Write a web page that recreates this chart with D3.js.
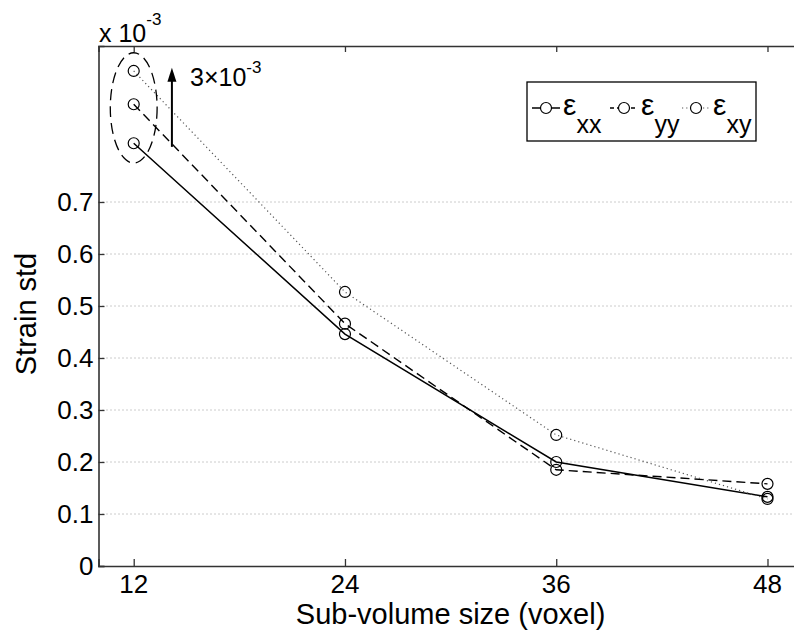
<!DOCTYPE html>
<html>
<head>
<meta charset="utf-8">
<script src="https://cdn.jsdelivr.net/npm/d3@7"></script>
<style>
  body { margin: 0; background: #fff; }
  svg { font-family: "Liberation Sans", Arial, sans-serif; }
  .tick-label { font-size: 26px; fill: #000; }
  .axis-title { font-size: 29px; fill: #000; }
</style>
</head>
<body>
<svg id="chart"></svg>
<script>
// Sub-volume sizes (x) and strain std per component (in units of 1e-3)
const sizes = [12, 24, 36, 48];
const strainXX = [0.813, 0.446, 0.200, 0.133];
const strainYY = [0.888, 0.466, 0.185, 0.158];
const strainXY = [0.952, 0.527, 0.252, 0.129];

const xTicks = [12, 24, 36, 48];
const yTicks = [0, 0.1, 0.2, 0.3, 0.4, 0.5, 0.6, 0.7];

const seriesNames = ['xx', 'yy', 'xy'];

// Annotation around the first group (data units)
const ellipseCenter = [12, 0.881];
const ellipseRadii = [1.33, 0.106];
const arrowX = 14.17;
const arrowFromTo = [0.806, 0.958];
const arrowLabelPos = [15.2, 0.923];

class LinePlot {
    constructor(_config) {
        this.config = {
            parentElement: _config.parentElement,
            containerWidth: _config.containerWidth || 794,
            containerHeight: _config.containerHeight || 634
        }
        this.initVis();
    }

    initVis() {
        let vis = this;

        vis.svg = d3.select(vis.config.parentElement)
            .attr('width', vis.config.containerWidth)
            .attr('height', vis.config.containerHeight);

        // x axis runs off the right edge of the picture (domain 10..50)
        vis.xScale = d3.scaleLinear().domain([10, 50]).range([98.5, 802.7]);
        vis.yScale = d3.scaleLinear().domain([0, 1]).range([566, 46]);

        vis.series = [
            {name: 'xx', values: strainXX, dash: null, color: '#000', width: 1.5},
            {name: 'yy', values: strainYY, dash: '9,5', color: '#000', width: 1.4},
            {name: 'xy', values: strainXY, dash: '1.2,3', color: '#555', width: 1.2}
        ];

        vis.renderVis();
    }

    renderVis() {
        let vis = this;
        const x = vis.xScale, y = vis.yScale;
        const x0 = x.range()[0], x1 = x.range()[1];
        const y0 = y.range()[0], y1 = y.range()[1];

        // Gridlines (dotted) for y ticks > 0
        vis.svg.append('g').selectAll('line')
            .data(yTicks.filter(d => d > 0))
            .join('line')
            .attr('x1', x0).attr('x2', x1)
            .attr('y1', d => y(d)).attr('y2', d => y(d))
            .attr('stroke', '#999')
            .attr('stroke-width', 1)
            .attr('stroke-dasharray', '1,3');

        // Axes with inward ticks
        const xAxisB = d3.axisTop(x).tickValues(xTicks).tickSize(7).tickFormat('');
        const xAxisT = d3.axisBottom(x).tickValues(xTicks).tickSize(6).tickFormat('');
        const yAxisL = d3.axisRight(y).tickValues(yTicks).tickSize(6).tickFormat('');

        [
            [xAxisB, `translate(0,${y0})`],
            [xAxisT, `translate(0,${y1})`],
            [yAxisL, `translate(${x0},0)`]
        ].forEach(([ax, tr]) => {
            vis.svg.append('g')
                .attr('transform', tr)
                .call(ax)
                .call(g => g.selectAll('line').attr('stroke', '#333').attr('stroke-width', 1.3))
                .call(g => g.select('.domain').attr('stroke', '#333').attr('stroke-width', 1.6));
        });

        // Tick labels
        vis.svg.append('g').selectAll('text')
            .data(xTicks)
            .join('text')
            .attr('class', 'tick-label')
            .attr('x', d => x(d))
            .attr('y', 593)
            .attr('text-anchor', 'middle')
            .text(d => d);

        vis.svg.append('g').selectAll('text')
            .data(yTicks)
            .join('text')
            .attr('class', 'tick-label')
            .attr('x', x0 - 5)
            .attr('y', d => y(d) + 9.3)
            .attr('text-anchor', 'end')
            .text(d => d === 0 ? '0' : d3.format('.1f')(d));

        // Axis titles
        vis.svg.append('text')
            .attr('class', 'axis-title')
            .attr('x', (x0 + x1) / 2)
            .attr('y', 624)
            .attr('text-anchor', 'middle')
            .text('Sub-volume size (voxel)');

        vis.svg.append('text')
            .attr('class', 'axis-title')
            .attr('transform', 'translate(36,314) rotate(-90)')
            .attr('text-anchor', 'middle')
            .text('Strain std');

        // Exponent label above the axes
        const expo = vis.svg.append('text')
            .attr('x', 99).attr('y', 42)
            .attr('font-size', 25);
        expo.append('tspan').text('x 10');
        expo.append('tspan').attr('font-size', 17).attr('dy', -17).text('-3');

        // Lines and markers
        const line = d3.line()
            .x((d, i) => x(sizes[i]))
            .y(d => y(d));

        vis.series.forEach(s => {
            vis.svg.append('path')
                .datum(s.values)
                .attr('d', line)
                .attr('fill', 'none')
                .attr('stroke', s.color)
                .attr('stroke-width', s.width)
                .attr('stroke-dasharray', s.dash);

            vis.svg.append('g').selectAll('circle')
                .data(s.values)
                .join('circle')
                .attr('cx', (d, i) => x(sizes[i]))
                .attr('cy', d => y(d))
                .attr('r', 5.5)
                .attr('fill', 'none')
                .attr('stroke', '#000')
                .attr('stroke-width', 1.2);
        });

        // Dashed ellipse around the first group
        vis.svg.append('ellipse')
            .attr('cx', x(ellipseCenter[0]))
            .attr('cy', y(ellipseCenter[1]))
            .attr('rx', x(ellipseCenter[0] + ellipseRadii[0]) - x(ellipseCenter[0]))
            .attr('ry', y(ellipseCenter[1] - ellipseRadii[1]) - y(ellipseCenter[1]))
            .attr('fill', 'none')
            .attr('stroke', '#000')
            .attr('stroke-width', 1.3)
            .attr('stroke-dasharray', '11,6');

        // Arrow with label
        const ax = x(arrowX), ayFrom = y(arrowFromTo[0]), ayTo = y(arrowFromTo[1]);
        vis.svg.append('line')
            .attr('x1', ax).attr('x2', ax)
            .attr('y1', ayFrom).attr('y2', ayTo + 12)
            .attr('stroke', '#000')
            .attr('stroke-width', 2);
        vis.svg.append('path')
            .attr('d', `M${ax - 4.5},${ayTo + 14} L${ax},${ayTo} L${ax + 4.5},${ayTo + 14} Z`)
            .attr('fill', '#000');

        const lab = vis.svg.append('text')
            .attr('x', x(arrowLabelPos[0]))
            .attr('y', y(arrowLabelPos[1]))
            .attr('font-size', 25);
        lab.append('tspan').text('3×10');
        lab.append('tspan').attr('font-size', 17).attr('dy', -13).text('-3');

        // Legend
        const legend = vis.svg.append('g').attr('transform', 'translate(527,82)');
        legend.append('rect')
            .attr('width', 229).attr('height', 59)
            .attr('fill', '#fff')
            .attr('stroke', '#000')
            .attr('stroke-width', 1.3);

        const entryX = [5, 83, 155];
        vis.series.forEach((s, i) => {
            const g = legend.append('g').attr('transform', `translate(${entryX[i]},26)`);
            g.append('line')
                .attr('x1', 0).attr('x2', 28)
                .attr('stroke', s.color)
                .attr('stroke-width', s.width)
                .attr('stroke-dasharray', s.dash ? (s.name === 'yy' ? '4,3' : s.dash) : null);
            g.append('circle')
                .attr('cx', 14).attr('r', 5.5)
                .attr('fill', '#fff')
                .attr('stroke', '#000')
                .attr('stroke-width', 1.2);
            const t = g.append('text').attr('x', 31).attr('y', 7).attr('font-size', 30);
            t.append('tspan').text('ε');
            t.append('tspan').attr('font-size', 25).attr('dy', 18).text(seriesNames[i]);
        });
    }
}

new LinePlot({parentElement: '#chart'});
</script>
</body>
</html>
